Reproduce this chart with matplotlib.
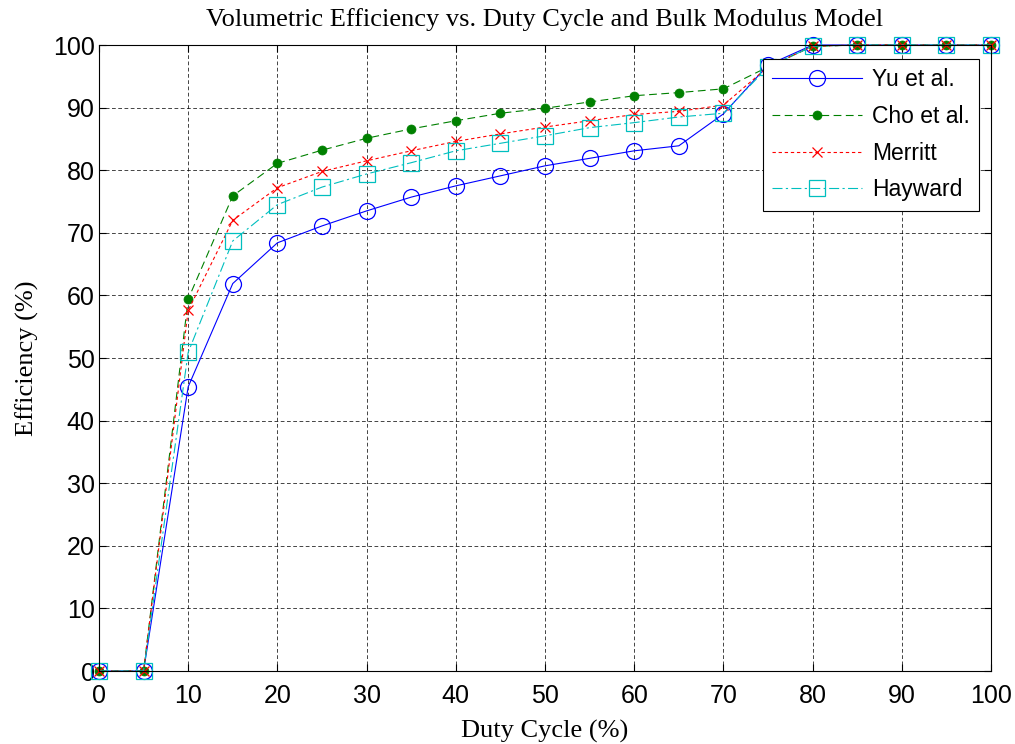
import numpy as np
import matplotlib
matplotlib.use("Agg")
import matplotlib.pyplot as plt

# duty cycle sweep (%)
duty = [0, 5, 10, 15, 20, 25, 30, 35, 40, 45, 50, 55, 60, 65, 70, 75, 80, 85, 90, 95, 100]

# volumetric efficiency (%) for each bulk modulus model
eff_yu = [0, 0, 45.4, 61.9, 68.4, 71.1, 73.5, 75.7, 77.5, 79.1, 80.7, 81.9, 83.1, 83.9, 89.0,
          96.8, 100, 100, 100, 100, 100]
eff_cho = [0, 0, 59.4, 75.9, 81.1, 83.2, 85.1, 86.6, 87.9, 89.1, 89.9, 90.9, 91.9, 92.4, 93.0,
           96.5, 99.8, 100, 100, 100, 100]
eff_merritt = [0, 0, 57.6, 72.0, 77.2, 79.8, 81.5, 83.1, 84.6, 85.8, 86.9, 87.9, 88.9, 89.4, 90.4,
               96.5, 99.8, 100, 100, 100, 100]
eff_hayward = [0, 0, 50.9, 68.7, 74.5, 77.3, 79.4, 81.2, 83.1, 84.3, 85.5, 86.8, 87.6, 88.5, 89.1,
               96.5, 99.8, 100, 100, 100, 100]

labels = ["Yu et al.", "Cho et al.", "Merritt", "Hayward"]

fig = plt.figure(figsize=(10.15, 7.44), dpi=100)
ax = fig.add_axes([0.0975, 0.0981, 0.8789, 0.8414])

series = [
    (eff_yu, dict(color=(0, 0, 1), marker="o", ms=11.5, mfc="none", mew=0.9, linestyle="-")),
    (eff_cho, dict(color=(0, 0.5, 0), marker="o", ms=6.5, mfc=(0, 0.5, 0), mew=0.5, dashes=(7, 4))),
    (eff_merritt, dict(color=(1, 0, 0), marker="x", ms=6.5, mew=0.9, dashes=(3, 2.5))),
    (eff_hayward, dict(color=(0, 0.75, 0.75), marker="s", ms=11.5, mfc="none", mew=0.9,
                       dashes=(9, 3, 2, 3))),
]
for (vals, style), lab in zip(series, labels):
    ax.plot(duty, vals, lw=0.8, label=lab, clip_on=False, **style)

ax.set_xlim(0, 100)
ax.set_ylim(0, 100)
ax.set_xticks(np.arange(0, 101, 10))
ax.set_yticks(np.arange(0, 101, 10))
ax.tick_params(direction="in", length=5, width=0.8, labelsize=18, top=True, right=True)
ax.tick_params(axis="x", pad=9)
ax.tick_params(axis="y", pad=3)
for lbl in ax.get_xticklabels() + ax.get_yticklabels():
    lbl.set_family("Liberation Sans")
ax.grid(True, color="black", linestyle=(0, (4.5, 3)), linewidth=0.6, alpha=0.85)
for sp in ax.spines.values():
    sp.set_linewidth(0.8)

ax.set_title("Volumetric Efficiency vs. Duty Cycle and Bulk Modulus Model",
             family="Liberation Serif", fontsize=19, pad=13.5)
ax.set_xlabel("Duty Cycle (%)", family="Liberation Serif", fontsize=19, labelpad=9)
ax.set_ylabel("Efficiency (%)", family="Liberation Serif", fontsize=19, labelpad=10)

leg = ax.legend(loc="upper right", bbox_to_anchor=(0.9865, 0.9776), borderaxespad=0,
                prop={"family": "Liberation Sans", "size": 16.5}, fancybox=False,
                framealpha=1, edgecolor="black", handlelength=3.9, borderpad=0.4,
                labelspacing=0.6, handletextpad=0.45)
leg.get_frame().set_linewidth(0.8)

fig.savefig("out.png", dpi=100)
